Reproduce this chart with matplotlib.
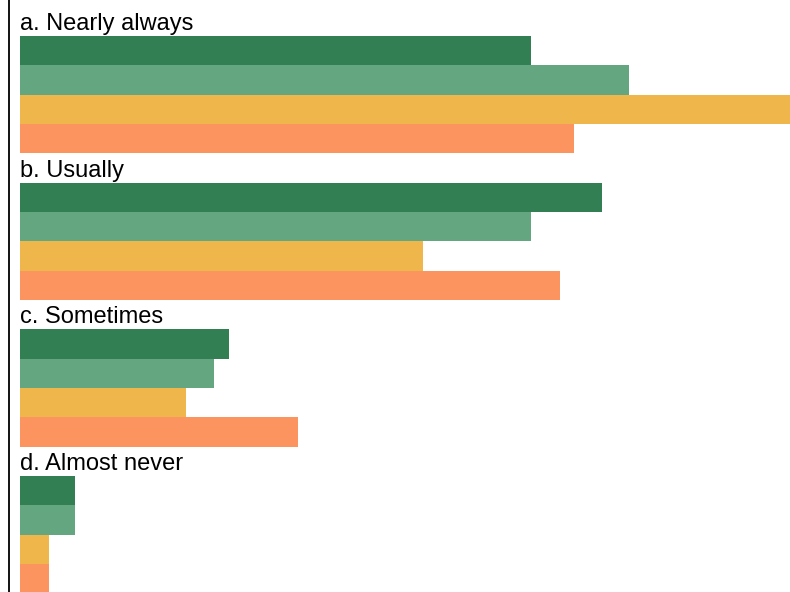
import matplotlib
matplotlib.use("Agg")
import matplotlib.pyplot as plt

categories = ["a. Nearly always", "b. Usually", "c. Sometimes", "d. Almost never"]
series_names = ["Series 1", "Series 2", "Series 3", "Series 4"]
series1 = [37.2, 42.3, 15.2, 4.0]
series2 = [44.3, 37.2, 14.1, 4.0]
series3 = [56.0, 29.3, 12.1, 2.1]
series4 = [40.3, 39.3, 20.2, 2.1]
colors = ["#317f52", "#64a67f", "#efb64c", "#fc9460"]

plt.rcParams['font.family'] = ['Liberation Sans', 'DejaVu Sans']

fig = plt.figure(figsize=(7.9, 5.92), dpi=100)
W, H = 790, 592
ax = fig.add_axes([9 / W, 0, 1 - 9 / W, 1])

row = 29.33
top_off = 6.67
ax.set_ylim(H / row, 0)
ax.set_xlim(-11 / 13.76, 56.0)

allseries = [series1, series2, series3, series4]
for g, cat in enumerate(categories):
    base = top_off / row + g * 5
    ax.text(0, base + 0.8, cat, fontsize=17, va='baseline', ha='left', color='black')
    for i, s in enumerate(allseries):
        ax.barh(base + 1 + i + 0.5, s[g], height=1.0, left=0, color=colors[i], linewidth=0)

for sp in ['top', 'right', 'bottom']:
    ax.spines[sp].set_visible(False)
ax.spines['left'].set_linewidth(1.3)
ax.set_xticks([])
ax.set_yticks([])

fig.savefig("out.png", dpi=100)
